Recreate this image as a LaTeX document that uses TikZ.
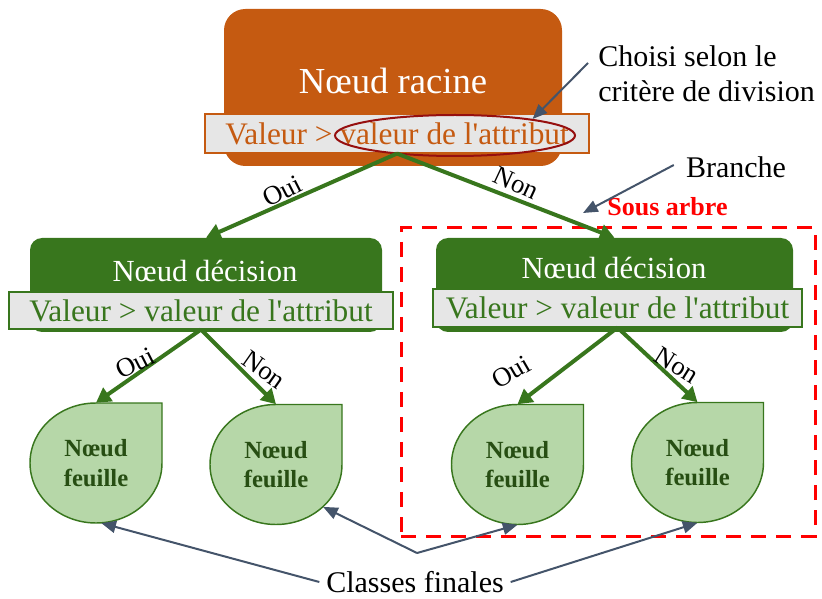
\documentclass[tikz,border=0pt]{standalone}
\usepackage{fontspec}
\setmainfont{Liberation Serif}
\usetikzlibrary{arrows.meta,shapes.geometric}
\definecolor{racine}{HTML}{C55A11}
\definecolor{vert}{HTML}{38761D}
\definecolor{vertclair}{HTML}{B6D7A8}
\definecolor{vertfonce}{HTML}{274E13}
\definecolor{gris}{HTML}{E6E6E6}
\definecolor{ardoise}{HTML}{44546A}
\definecolor{bordeaux}{HTML}{960F0F}

\newcommand{\feuille}[3]{%
  \draw[leafshape] (#2+66,#3-60) -- (#2+66,#3)
    arc[start angle=0,end angle=-270,x radius=49.5pt,y radius=45pt] -- cycle;
  \node[leaf] (#1) at (#2,#3) {Nœud\\feuille};
}
\newcommand{\condtext}{Valeur > valeur de l\textquotesingle attribut}

\begin{document}
\begin{tikzpicture}[x=0.75pt,y=-0.75pt,
  every node/.style={inner sep=0pt},
  rootbox/.style={fill=racine,rounded corners=16pt,minimum width=253.5pt,minimum height=117.75pt},
  decbox/.style={fill=vert,rounded corners=9pt,minimum height=70.5pt},
  bar/.style={fill=gris,line width=0.8pt,minimum width=288pt},
  barfont/.style={font=\fontsize{23.5}{28}\selectfont},
  title/.style={text=white,font=\fontsize{23}{27}\selectfont},
  leafshape/.style={fill=vertclair,draw=vert,line width=1.1pt},
  leaf/.style={ellipse,minimum width=99pt,minimum height=90pt,align=center,
    text=vertfonce,font=\bfseries\fontsize{18.5}{22}\selectfont},
  branch/.style={draw=vert,line width=3pt,-{Triangle[length=11pt,width=12pt]}},
  note/.style={draw=ardoise,line width=1.5pt,-{Triangle[length=11pt,width=9pt]}},
  annot/.style={font=\fontsize{22.5}{26.25}\selectfont},
  lbl/.style={font=\fontsize{20}{24}\selectfont}]

\useasboundingbox (0,0) rectangle (822,599);

\node[rootbox] (root) at (393,87.5) {};
\node[text=white,font=\fontsize{27.5}{32}\selectfont] (roottitle) at (393,81) {Nœud racine};
\node[bar,draw=racine,minimum height=29.25pt,text=racine,barfont] (rootbar) at (397,133.5) {\condtext};
\node[draw=bordeaux,line width=1.5pt,ellipse,minimum width=180pt,minimum height=30.75pt] (el) at (455,135.5) {};

\node[draw=red,line width=2.25pt,dash pattern=on 11.25pt off 7.5pt,minimum width=310.5pt,minimum height=231pt] (sa) at (608,382) {};
\node[text=red,font=\bfseries\fontsize{19.5}{23}\selectfont] (satitle) at (667.5,207) {Sous arbre};

\node[decbox,minimum width=264pt] (d1) at (206,285) {};
\node[title] (t1) at (205,271) {Nœud décision};
\node[bar,draw=vert,minimum height=27.75pt,text=vert,barfont] (b1) at (201,310.5) {\condtext};

\node[decbox,minimum width=267.75pt] (d2) at (614.5,285) {};
\node[title] (t2) at (614,268) {Nœud décision};
\node[bar,draw=vert,minimum width=276.75pt,minimum height=28.5pt,text=vert,barfont] (b2) at (617.5,308) {\condtext};

\feuille{f1}{96}{463}
\feuille{f2}{276}{464.5}
\feuille{f3}{517.5}{464.5}
\feuille{f4}{697.5}{462.5}

\draw[branch] (rootbar.south) -- (d1.north);
\draw[branch] (rootbar.south) -- (d2.north);
\draw[branch] (b1.south) -- (f1.north);
\draw[branch] (b1.south) -- (f2.north);
\draw[branch] (b2.south) -- (f3.north);
\draw[branch] (b2.south) -- (f4.north);

\node[lbl,rotate=27] (oui1) at (282,191) {Oui};
\node[lbl,rotate=-25] (non1) at (516,183) {Non};
\node[lbl,rotate=27] (oui2) at (135,363) {Oui};
\node[lbl,rotate=-35] (non2) at (264,370) {Non};
\node[lbl,rotate=30] (oui3) at (511,372) {Oui};
\node[lbl,rotate=-32] (non3) at (677,365) {Non};

\node[annot,anchor=west,align=left] (ch) at (598,74) {Choisi selon le\\critère de division};
\draw[note] ([shift={(-10,-11)}]ch.west) -- (el.12);

\node[annot] (br) at (736,167) {Branche};
\coordinate (brt) at (583,213);
\draw[note] ([shift={(-12,-2)}]br.west) -- (brt);

\node[annot,inner xsep=5pt] (cl) at (415,582) {Classes finales};
\coordinate (cv) at (417,553);
\draw[note] (cl.west) -- (f1.-85);
\draw[note] (cv) -- (f2.-42);
\draw[note] (cv) -- (f3.south);
\draw[note] (cl.east) -- (f4.south);

\end{tikzpicture}
\end{document}
